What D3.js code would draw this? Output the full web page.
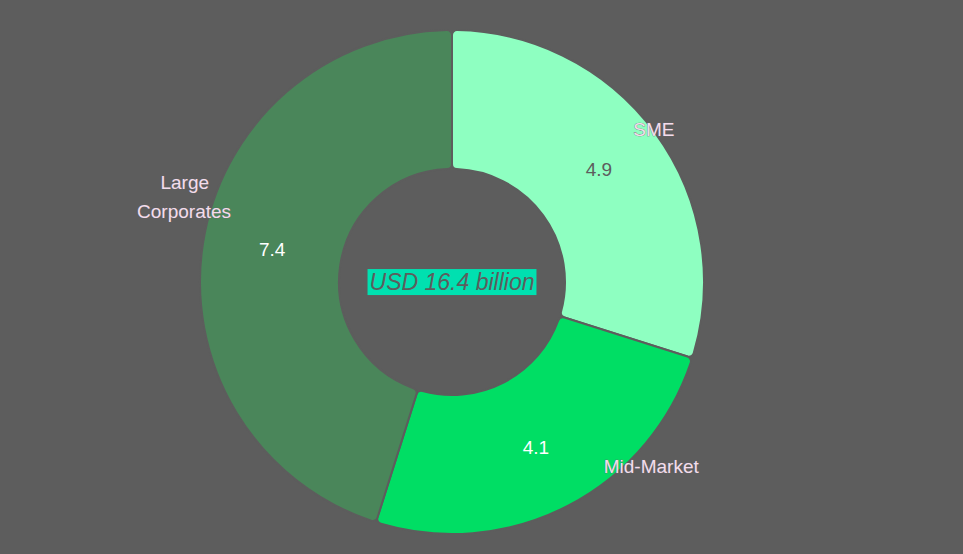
<!DOCTYPE html>
<html><head><meta charset="utf-8">
<script src="https://cdn.jsdelivr.net/npm/d3@7"></script>
<style>body{margin:0;background:#5d5d5d;}svg{display:block}</style>
</head><body>
<svg id="c" width="963" height="554"></svg>
<script>
const categories = ["SME", "Mid-Market", "Large Corporates"];
const values = [4.9, 4.1, 7.4];
const colors = ["#8effc1", "#00de64", "#4a865a"];
const valueColors = ["#5d5d5d", "#ffffff", "#ffffff"];
const centerLabel = "USD 16.4 billion";

const W = 963, H = 554, cx = 452, cy = 282, R = 252, r0 = 113;
const svg = d3.select("#c");
svg.append("rect").attr("width", W).attr("height", H).attr("fill", "#5d5d5d");
const g = svg.append("g").attr("transform", `translate(${cx},${cy})`);
const pie = d3.pie().sort(null).value(d => d.v);
const data = pie(categories.map((c, i) => ({c, v: values[i], i})));
const arc = d3.arc().innerRadius(r0).outerRadius(R).cornerRadius(5);
g.selectAll("path.s").data(data).join("path")
  .attr("d", arc).attr("fill", d => colors[d.data.i])
  .attr("stroke", "#5d5d5d").attr("stroke-width", 2);

const mid = d3.arc().innerRadius(182).outerRadius(182);
g.selectAll("text.v").data(data).join("text")
  .attr("transform", d => `translate(${mid.centroid(d)})`)
  .attr("text-anchor", "middle").attr("dy", "0.35em")
  .attr("font-family", "Liberation Sans, Arial, sans-serif").attr("font-size", 19)
  .attr("fill", d => valueColors[d.data.i])
  .attr("dx", d => [0, 0, 0][d.data.i])
  .attr("dy", d => ["0.1em", "0.55em", "0.1em"][d.data.i])
  .text(d => d.data.v.toFixed(1));

// category labels: outer arc positions with per-label nudges
const outer = d3.arc().innerRadius(262).outerRadius(262);
const nudge = [[-30, 2], [31, -48], [38, -49]];
const anchors = ["start", "start", "end"];
const lab = g.selectAll("text.l").data(data).join("text")
  .attr("font-family", "Liberation Sans, Arial, sans-serif").attr("font-size", 19)
  .attr("fill", "#f3dcec").attr("stroke", "#6b6b6b").attr("stroke-width", 0.6)
  .attr("paint-order", "stroke")
  .attr("text-anchor", d => anchors[d.data.i])
  .attr("transform", d => {
    const p = outer.centroid(d), n = nudge[d.data.i];
    return `translate(${p[0] + n[0]},${p[1] + n[1]})`;
  });
lab.each(function(d) {
  const words = d.data.c === "Large Corporates" ? ["Large", "Corporates"] : [d.data.c];
  const t = d3.select(this);
  words.forEach((w, k) => t.append("tspan").attr("x", 0)
    .attr("dy", k === 0 ? (words.length > 1 ? "-0.2em" : "0.35em") : "1.5em")
    .attr("text-anchor", words.length > 1 ? "end" : null)
    .attr("dx", words.length > 1 && k === 0 ? -22 : 0)
    .text(w));
});

// center label
const ct = g.append("text").attr("text-anchor", "middle").attr("dy", "0.35em")
  .attr("font-family", "Liberation Sans, Arial, sans-serif").attr("font-size", 23)
  .attr("font-style", "italic").attr("fill", "#5d5d5d").text(centerLabel);
const bb = ct.node().getBBox();
g.insert("rect", "text:last-of-type")
  .attr("x", bb.x - 2).attr("y", bb.y).attr("width", bb.width + 4).attr("height", bb.height)
  .attr("fill", "#00e0b0");
</script>
</body></html>
